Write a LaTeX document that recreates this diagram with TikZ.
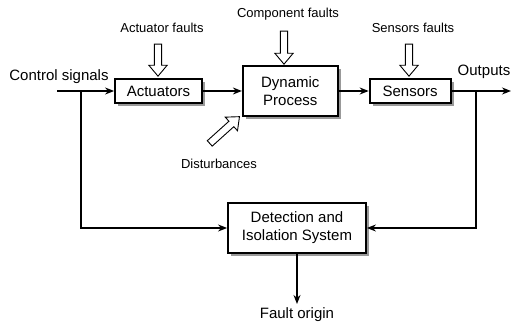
\documentclass[tikz,border=0pt]{standalone}
\usepackage{fontspec}
\setmainfont{Liberation Sans}
\usetikzlibrary{positioning,shadows,shapes.arrows,arrows.meta}

\begin{document}
\begin{tikzpicture}[x=1pt, y=1pt, line width=1.4pt, >={Stealth[length=9pt,width=7pt]},
  block/.style={draw, line width=1.8pt, fill=white, align=center, font=\fontsize{15}{18}\selectfont,
    drop shadow={shadow xshift=3pt, shadow yshift=-3pt, fill=black!40, opacity=1}},
  lbl/.style={font=\fontsize{15}{18}\selectfont},
  small/.style={font=\fontsize{13}{15}\selectfont},
  fault/.style={draw, line width=0.9pt, fill=white, single arrow, inner sep=3.2pt, minimum height=32pt,
    single arrow head extend=5.5pt, single arrow tip angle=80}]
\useasboundingbox (0,0) rectangle (512,327);
% main chain
\node[block, minimum width=87pt, minimum height=24pt] (act) at (158.5,236) {Actuators};
\node[block, minimum width=95pt, minimum height=50pt, right=39pt of act] (dyn) {Dynamic\\ Process};
\node[block, minimum width=81pt, minimum height=24pt, right=30pt of dyn] (sens) {Sensors};
\node[block, minimum width=138pt, minimum height=50pt] (det) at (297,99) {Detection and\\ Isolation System};
% labels
\node[lbl] (ctrl) at (59,250) {Control signals};
\node[lbl] (outs) at (484,255) {Outputs};
\node[lbl] (origin) at (297,12) {Fault origin};
\node[small] (actlbl) at (162,299) {Actuator faults};
\node[small] (complbl) at (288,313) {Component faults};
\node[small] (senslbl) at (413,299) {Sensors faults};
\node[small] (distlbl) at (219,163) {Disturbances};
% fault inputs
\node[fault, rotate=-90] (actf) at (158,269) {};
\node[fault, rotate=-90, minimum height=33pt] (compf) at (284,281.5) {};
\node[fault, rotate=-90] (sensf) at (409,269) {};
\node[fault, rotate=42, minimum height=40pt] (distf) at (223,195.5) {};
% signal flow
\coordinate (in) at (57,236);
\coordinate (out) at (511,236);
\coordinate (tapin) at (81,236);
\coordinate (tapout) at (476,236);
\draw[->] (in) -- (act);
\draw[->] (act) -- (dyn);
\draw[->] (dyn) -- (sens);
\draw[->] (sens) -- (out);
\draw[->] (tapin) |- (det);
\draw[->] (tapout) |- (det);
\draw[->] (det.south) -- (det.south |- origin.north);
\end{tikzpicture}
\end{document}
